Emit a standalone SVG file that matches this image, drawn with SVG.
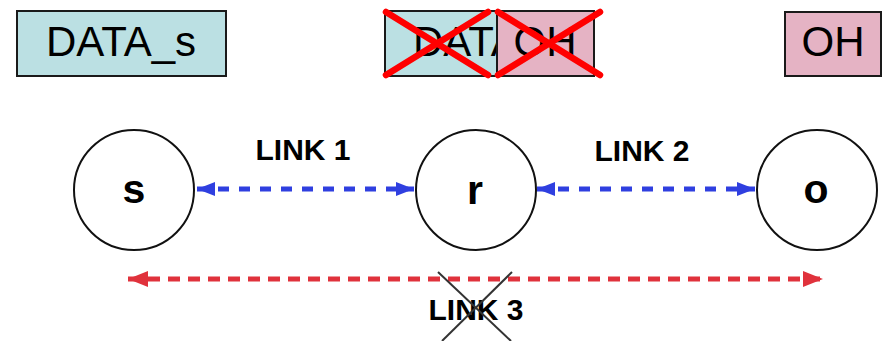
<svg xmlns="http://www.w3.org/2000/svg" width="883" height="341" viewBox="0 0 883 341">
<style>
.box{stroke:#1a1a1a;stroke-width:2}
.cyan{fill:#bbe0e3}
.pink{fill:#e5b3c4}
.bt{font-family:"Liberation Sans",Arial,sans-serif;font-size:42px;fill:#000;text-anchor:middle}
.node{fill:#fff;stroke:#111;stroke-width:2}
.nt{font-family:"Liberation Sans",Arial,sans-serif;font-weight:bold;font-size:41px;fill:#000;text-anchor:middle}
.lt{font-family:"Liberation Sans",Arial,sans-serif;font-weight:bold;font-size:30px;fill:#000;text-anchor:middle}
.blue{stroke:#2f3fe0;stroke-width:5;stroke-dasharray:11 10;fill:none}
.red{stroke:#e0323c;stroke-width:5;stroke-dasharray:12 8;fill:none}
.rx{stroke:#f00;stroke-width:6.5;stroke-linecap:round}
.gx{stroke:#333;stroke-width:2}
</style>
<defs>
<marker id="bh" markerUnits="userSpaceOnUse" markerWidth="20" markerHeight="14" refX="18" refY="7" orient="auto-start-reverse"><path d="M0,0 L18,7 L0,14 Z" fill="#2f3fe0"/></marker>
<marker id="rh" markerUnits="userSpaceOnUse" markerWidth="22" markerHeight="16" refX="20" refY="8" orient="auto-start-reverse"><path d="M0,0 L20,8 L0,16 Z" fill="#e0323c"/></marker>
<clipPath id="clipA"><rect x="385" y="11" width="112" height="65"/></clipPath>
</defs>
<g id="box-data-s">
<rect class="box cyan" x="17" y="11" width="209" height="65"/>
<text class="bt" x="121" y="56">DATA_s</text>
</g>
<g id="box-crossed">
<rect class="box cyan" x="385" y="11" width="112" height="65"/>
<text class="bt" x="413" y="56" style="text-anchor:start" clip-path="url(#clipA)">DATA</text>
<rect class="box pink" x="497" y="11" width="97" height="65"/>
<text class="bt" x="545" y="56">OH</text>
<line class="rx" x1="386" y1="12" x2="488" y2="75"/>
<line class="rx" x1="488" y1="12" x2="386" y2="75"/>
<line class="rx" x1="498" y1="12" x2="600" y2="75"/>
<line class="rx" x1="600" y1="12" x2="498" y2="75"/>
</g>
<g id="box-oh">
<rect class="box pink" x="785" y="12" width="96" height="64"/>
<text class="bt" x="833" y="56">OH</text>
</g>
<g id="connectors">
<line class="blue" x1="197" y1="189" x2="414" y2="189" marker-start="url(#bh)" marker-end="url(#bh)"/>
<line class="blue" x1="537" y1="189" x2="755" y2="189" marker-start="url(#bh)" marker-end="url(#bh)"/>
<line class="red" x1="128" y1="279" x2="823" y2="279" marker-start="url(#rh)" marker-end="url(#rh)"/>
<text class="lt" x="303" y="160">LINK 1</text>
<text class="lt" x="642" y="161">LINK 2</text>
<text class="lt" x="476" y="320">LINK 3</text>
<line class="gx" x1="438" y1="272" x2="511" y2="341"/>
<line class="gx" x1="512" y1="272" x2="442" y2="341"/>
</g>
<g id="node-s">
<circle class="node" cx="134" cy="190" r="60"/>
<text class="nt" x="134" y="203">s</text>
</g>
<g id="node-r">
<circle class="node" cx="476" cy="190" r="60"/>
<text class="nt" x="475" y="204">r</text>
</g>
<g id="node-o">
<circle class="node" cx="817" cy="190" r="60"/>
<text class="nt" x="816" y="203">o</text>
</g>
</svg>
